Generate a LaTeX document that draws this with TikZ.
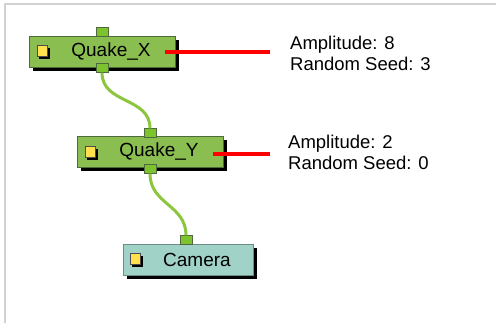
\documentclass[tikz,border=0pt]{standalone}
\usepackage{fontspec}
\setmainfont{Liberation Sans}
\usetikzlibrary{shadows}
\definecolor{nodegreen}{RGB}{139,190,80}
\definecolor{nodeborder}{RGB}{80,105,60}
\definecolor{portgreen}{RGB}{125,195,45}
\definecolor{wiregreen}{RGB}{140,198,63}
\definecolor{camteal}{RGB}{160,210,200}
\definecolor{camborder}{RGB}{110,140,135}
\definecolor{iconyellow}{RGB}{255,225,80}
\definecolor{framegray}{RGB}{210,210,210}
\begin{document}
\begin{tikzpicture}[x=1pt,y=-1pt,
  modbox/.style={draw=nodeborder,line width=1pt,fill=nodegreen,minimum height=31pt,
    drop shadow={shadow xshift=3.5pt,shadow yshift=-3.5pt,fill=black,opacity=1},
    font=\fontsize{19}{20}\selectfont,inner sep=0pt},
  cambox/.style={modbox,draw=camborder,fill=camteal},
  port/.style={draw=nodeborder,line width=0.8pt,fill=portgreen,minimum width=12pt,minimum height=8.5pt,inner sep=0pt},
  icon/.style={draw=black!70,line width=0.5pt,fill=iconyellow,minimum size=10.5pt,inner sep=0pt,
    drop shadow={shadow xshift=2.5pt,shadow yshift=-2.5pt,fill=black,opacity=1}},
  wire/.style={wiregreen,line width=3pt},
  param/.style={red,line width=3.5pt},
  lbl/.style={anchor=base west,font=\fontsize{18.5}{20}\selectfont,inner sep=0pt}
]
\useasboundingbox (0,0) rectangle (496,323);
\draw[framegray,line width=2pt] (5,323) -- (5,4) -- (496,4);

% nodes
\node[modbox,minimum width=146pt] (qx) at (102,52) {\hspace*{18pt}Quake\_X};
\node[modbox,minimum width=146pt] (qy) at (150,152) {\hspace*{18pt}Quake\_Y};
\node[cambox,minimum width=130pt] (cam) at (188,260) {\hspace*{18pt}Camera};

\node[icon] (iqx) at (42,51) {};
\node[icon] (iqy) at (90,152) {};
\node[icon] (icam) at (135,259) {};

% ports
\node[port] (qxin) at (102,32) {};
\node[port] (qxout) at (102,68) {};
\node[port] (qyin) at (150,133) {};
\node[port] (qyout) at (150,169) {};
\node[port] (camin) at (186,240) {};

% wires
\draw[wire] (qxout.south) to[out=-90,in=90,looseness=1.1] (qyin.north);
\draw[wire] (qyout.south) to[out=-90,in=90,looseness=1.1] (camin.north);

% parameter lines
\coordinate (px) at (270,52);
\coordinate (py) at (270,154);
\draw[param] (165,52) -- (px);
\draw[param] (213,154) -- (py);

\node[lbl] (ax) at (290,50) {Amplitude: 8};
\node[lbl] (sx) at (290,71) {Random Seed: 3};
\node[lbl] (ay) at (288,149) {Amplitude: 2};
\node[lbl] (sy) at (288,170) {Random Seed: 0};
\end{tikzpicture}
\end{document}
